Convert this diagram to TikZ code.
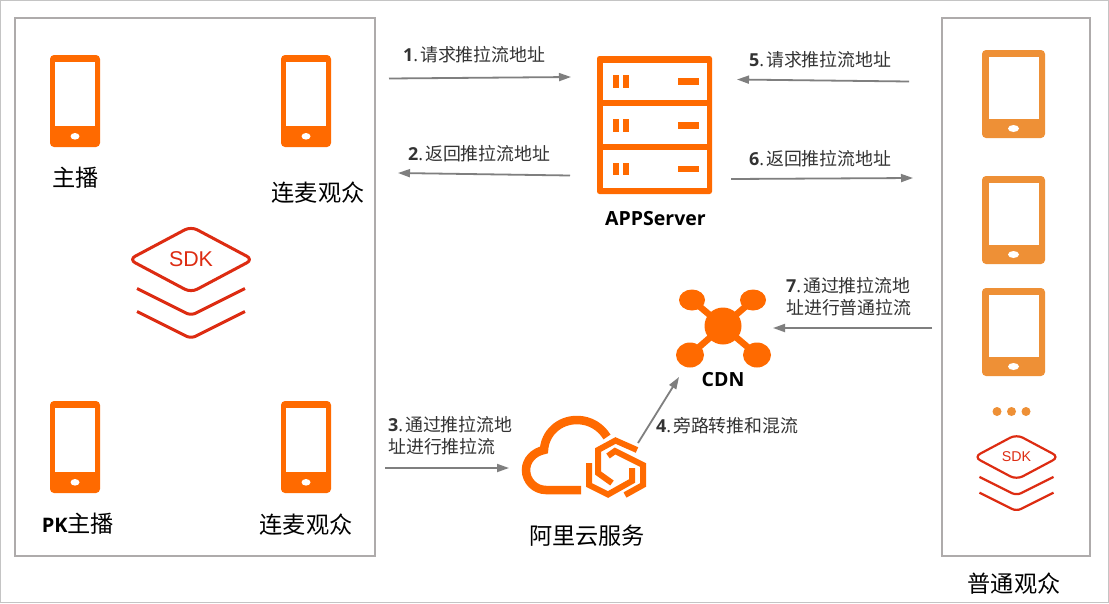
\documentclass[tikz,border=0pt]{standalone}
\usepackage{fontspec}
\setmainfont{Open Sans}
\newfontfamily\cjk{Noto Sans CJK SC}
\newfontfamily\lat{Open Sans}
\newfontfamily\sdkfont{Liberation Sans}
\usetikzlibrary{arrows.meta}
\definecolor{phoneor}{HTML}{FF6A00}
\definecolor{tabor}{HTML}{EE9036}
\definecolor{sdkred}{HTML}{DD2C12}
\definecolor{boxgray}{HTML}{AEABAB}
\definecolor{arrgray}{HTML}{7F7F7F}
\definecolor{outergray}{HTML}{C4C4C4}
\newcommand{\stepno}[1]{{\lat\bfseries #1}{\lat .}\hspace{2pt}}
\tikzset{
  x=1pt,y=-1pt,
  framebox/.style={draw=boxgray,line width=2pt,outer sep=0pt},
  flow/.style={draw=arrgray,line width=1.8pt,-{Triangle[length=12pt,width=8pt]}},
  steplabel/.style={anchor=west,inner sep=0pt,align=left,text=black!80,font={\cjk\fontsize{17.9}{22}\selectfont}},
  titlelabel/.style={inner sep=0pt,text=black,font={\cjk\fontsize{23.2}{26}\selectfont}},
  boldlabel/.style={inner sep=0pt,text=black,font={\lat\bfseries\fontsize{19.5}{24}\selectfont}},
  pics/phone/.style={code={
    \fill[phoneor,rounded corners=4pt] (-25,-46) rectangle (25,46);
    \fill[white] (-20,-39.3) rectangle (20,25);
    \fill[white] (0,35.3) ellipse [x radius=4.5,y radius=3.3];
  }},
  pics/tablet/.style={code={
    \fill[tabor,rounded corners=4pt] (-31.5,-44) rectangle (31.5,44);
    \fill[white] (-25,-37) rectangle (25,24.5);
    \fill[white] (0,34.5) ellipse [x radius=5.5,y radius=3.5];
  }},
  pics/sdk/.style n args={2}{code={
    \draw[sdkred,line width=#1,rounded corners=7pt] (-62,0) -- (0,-33) -- (62,0) -- (0,33) -- cycle;
    \draw[sdkred,line width=#1,rounded corners=5pt] (-54,29) -- (0,56) -- (54,29);
    \draw[sdkred,line width=#1,rounded corners=5pt] (-54,52) -- (0,79) -- (54,52);
    \node (-txt) at (0,0) [inner sep=0pt,text=sdkred,font={\sdkfont\fontsize{#2}{#2}\selectfont}] {SDK};
  }},
}
\begin{document}
\begin{tikzpicture}
\useasboundingbox (0,0) rectangle (1109,603);
\fill[white] (0,0) rectangle (1109,603);
\draw[outergray,line width=1pt] (0.5,0.5) rectangle (1108.5,602.5);

% frames
\node[framebox,minimum width=360pt,minimum height=538pt,inner sep=0pt,anchor=north west] (leftbox) at (15,18) {};
\node[framebox,minimum width=148pt,minimum height=538pt,inner sep=0pt,anchor=north west] (rightbox) at (942,18) {};

% phones
\pic (ph1) at (75,101) {phone};
\pic (ph2) at (306,101) {phone};
\pic (ph3) at (75,447) {phone};
\pic (ph4) at (306,447) {phone};
\node[titlelabel] (t1) at (75.5,178) {主播};
\node[titlelabel] (t2) at (318,193) {连麦观众};
\node[titlelabel] (t3) at (78,524) {{\lat\bfseries\fontsize{20}{24}\selectfont PK}主播};
\node[titlelabel] (t4) at (306,525) {连麦观众};

% SDK icons
\pic (sdk1) at (191,259.5) {sdk={3pt}{21.4}};
\pic[scale=.686] (sdk2) at (1016.5,457) {sdk={2.2pt}{14.2}};

% tablets
\pic (tb1) at (1013.5,94) {tablet};
\pic (tb2) at (1013.5,220) {tablet};
\pic (tb3) at (1013.5,332) {tablet};
\foreach \xx/\nm in {997/d1,1011.5/d2,1026/d3}
  \node[circle,fill=tabor,minimum size=9pt,inner sep=0pt] (\nm) at (\xx,411.5) {};
\node[titlelabel] (t5) at (1014,584) {普通观众};

% server
\fill[phoneor,rounded corners=2.5pt] (597,56) rectangle (712,194);
\fill[white] (602.5,62.5) rectangle (707,100);
\fill[white] (602.5,106) rectangle (707,143.5);
\fill[white] (602.5,149.5) rectangle (707,187.5);
\foreach \yy in {75,119,162.5} {
  \fill[phoneor] (612.5,\yy) rectangle +(6,12.5);
  \fill[phoneor] (623,\yy) rectangle +(5.5,12.5);
  \fill[phoneor] (678,\yy+3) rectangle +(21,6.5);
}
\node[boldlabel] (appserver) at (655.5,218.5) {APPServer};

% CDN
\draw[phoneor,line width=6.5pt] (692,300) -- (757,355) (753,300) -- (690,355);
\fill[phoneor] (723,326) circle [radius=18.5];
\fill[phoneor] (692,300) ellipse [x radius=13,y radius=10.5];
\fill[phoneor] (753,300) ellipse [x radius=13,y radius=10.5];
\fill[phoneor] (690,355) ellipse [x radius=14,y radius=12.5];
\fill[phoneor] (757,355) ellipse [x radius=14,y radius=12.5];
\node[boldlabel] (cdn) at (723,380) {CDN};

% cloud
\draw[phoneor,line width=8.5pt] (581,490) -- (546,490)
  .. controls (535,490) and (526,481) .. (526,470)
  .. controls (526,460) and (534,452) .. (544,450)
  .. controls (545,433) and (559,420) .. (577,420)
  .. controls (590,420) and (601,427) .. (607,437);
\draw[phoneor,line width=6pt] (637,450) -- (615.5,440.5) -- (598,450) -- (598,473) -- (612,483);
\draw[phoneor,line width=6pt] (589,463) -- (589,485) -- (608,494.5) -- (632,481) -- (632,468);
\draw[phoneor,line width=6pt] (608,456) -- (615,451) -- (643,465) -- (643,485) -- (625,495);
\node[titlelabel] (t6) at (587,536) {阿里云服务};

% arrow ends
\coordinate (a1s) at (389,78.5);  \coordinate (a1e) at (571,77);
\coordinate (a2s) at (570,175.5); \coordinate (a2e) at (398,173);
\coordinate (a3s) at (385,468);   \coordinate (a3e) at (509,468);
\coordinate (a4s) at (638,443);   \coordinate (a4e) at (679,377);
\coordinate (a5s) at (909,81.5);  \coordinate (a5e) at (737,79.5);
\coordinate (a6s) at (731,179);   \coordinate (a6e) at (913,178);
\coordinate (a7s) at (932,328);   \coordinate (a7e) at (773,328);
\draw[flow] (a1s) -- (a1e);
\draw[flow] (a2s) -- (a2e);
\draw[flow] (a3s) -- (a3e);
\draw[flow] (a4s) -- (a4e);
\draw[flow] (a5s) -- (a5e);
\draw[flow] (a6s) -- (a6e);
\draw[flow] (a7s) -- (a7e);

% step labels
\node[steplabel] (l1) at (403,55) {\stepno{1}请求推拉流地址};
\node[steplabel] (l2) at (408,154) {\stepno{2}返回推拉流地址};
\node[steplabel] (l3) at (388,436) {\stepno{3}通过推拉流地\\址进行推拉流};
\node[steplabel] (l4) at (656,426) {\stepno{4}旁路转推和混流};
\node[steplabel] (l5) at (749,60) {\stepno{5}请求推拉流地址};
\node[steplabel] (l6) at (749,159) {\stepno{6}返回推拉流地址};
\node[steplabel] (l7) at (786,297) {\stepno{7}通过推拉流地\\址进行普通拉流};
\end{tikzpicture}
\end{document}
